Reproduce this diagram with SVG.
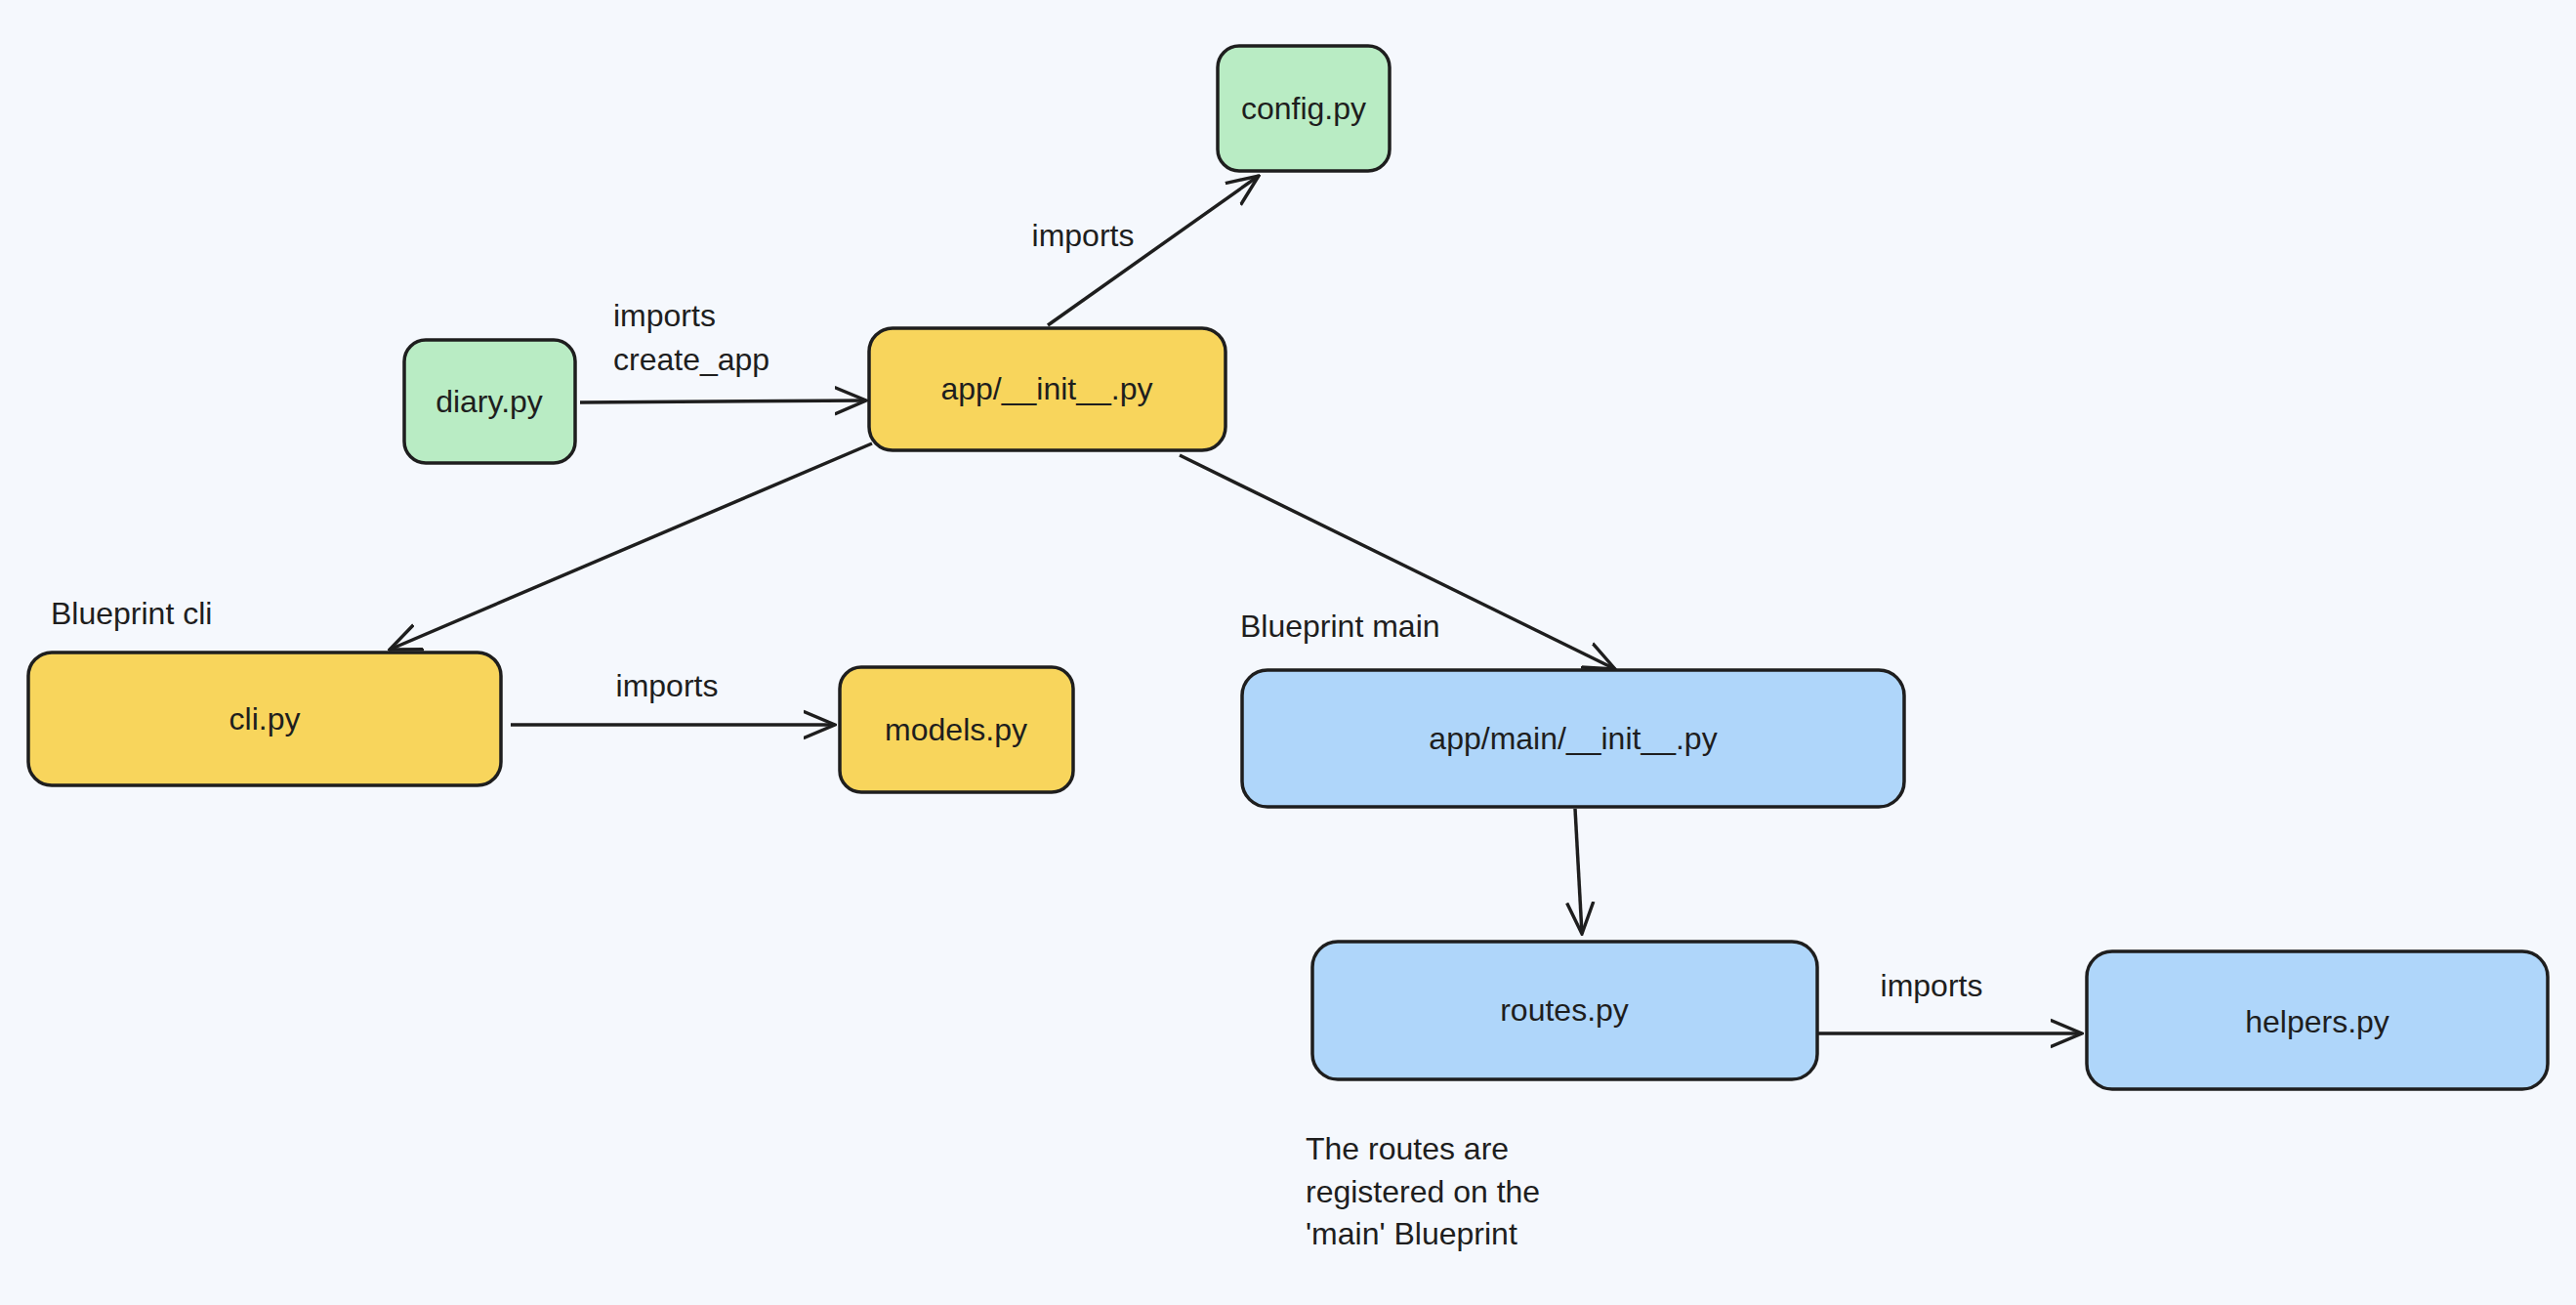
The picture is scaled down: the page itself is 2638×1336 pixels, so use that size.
<svg xmlns="http://www.w3.org/2000/svg" width="2638" height="1336" viewBox="0 0 2638 1336">
<style>
.n{stroke:#1e1e1e;stroke-width:3.5}
.g{fill:#b9ecc4}.y{fill:#f8d55c}.b{fill:#afd6fa}
text{font-family:"Liberation Sans",sans-serif;font-size:32px;fill:#1e1e1e}
.c{text-anchor:middle;dominant-baseline:central}
.e path{stroke:#1e1e1e;stroke-width:3.5;fill:none;marker-end:url(#a)}
</style>
<defs><marker id="a" viewBox="0 0 20 20" refX="19" refY="10" markerWidth="34" markerHeight="34" markerUnits="userSpaceOnUse" orient="auto"><path d="M0 2 L19 10 L0 18" fill="none" stroke="#1e1e1e" stroke-width="2"/></marker></defs>
<rect width="2638" height="1336" fill="#f5f8fd"/>
<g class="e">
<path d="M594 412 L887 410"/>
<path d="M1073 333 L1289 180"/>
<path d="M893 454 L399 665"/>
<path d="M1208 466 L1654 685"/>
<path d="M523 742 L855 742"/>
<path d="M1613 828 L1620 956"/>
<path d="M1862 1058 L2132 1058"/>
</g>
<g id="config"><rect class="n g" x="1247" y="47" width="176" height="128" rx="22"/><text class="c" x="1335" y="111">config.py</text></g>
<g id="diary"><rect class="n g" x="414" y="348" width="175" height="126" rx="22"/><text class="c" x="501" y="411">diary.py</text></g>
<g id="app"><rect class="n y" x="890" y="336" width="365" height="125" rx="24"/><text class="c" x="1072" y="398">app/__init__.py</text></g>
<g id="cli"><rect class="n y" x="29" y="668" width="484" height="136" rx="24"/><text class="c" x="271" y="736">cli.py</text></g>
<g id="models"><rect class="n y" x="860" y="683" width="239" height="128" rx="22"/><text class="c" x="979" y="747">models.py</text></g>
<g id="main"><rect class="n b" x="1272" y="686" width="678" height="140" rx="26"/><text class="c" x="1611" y="756">app/main/__init__.py</text></g>
<g id="routes"><rect class="n b" x="1344" y="964" width="517" height="141" rx="26"/><text class="c" x="1602" y="1034">routes.py</text></g>
<g id="helpers"><rect class="n b" x="2137" y="974" width="472" height="141" rx="26"/><text class="c" x="2373" y="1046">helpers.py</text></g>
<g id="labels">
<text class="c" x="1109" y="241">imports</text>
<text x="628" y="334">imports</text>
<text x="628" y="379">create_app</text>
<text x="52" y="639">Blueprint cli</text>
<text x="1270" y="652">Blueprint main</text>
<text class="c" x="683" y="702">imports</text>
<text class="c" x="1978" y="1009">imports</text>
<text x="1337" y="1187">The routes are</text>
<text x="1337" y="1231">registered on the</text>
<text x="1337" y="1274">'main' Blueprint</text>
</g>
</svg>
